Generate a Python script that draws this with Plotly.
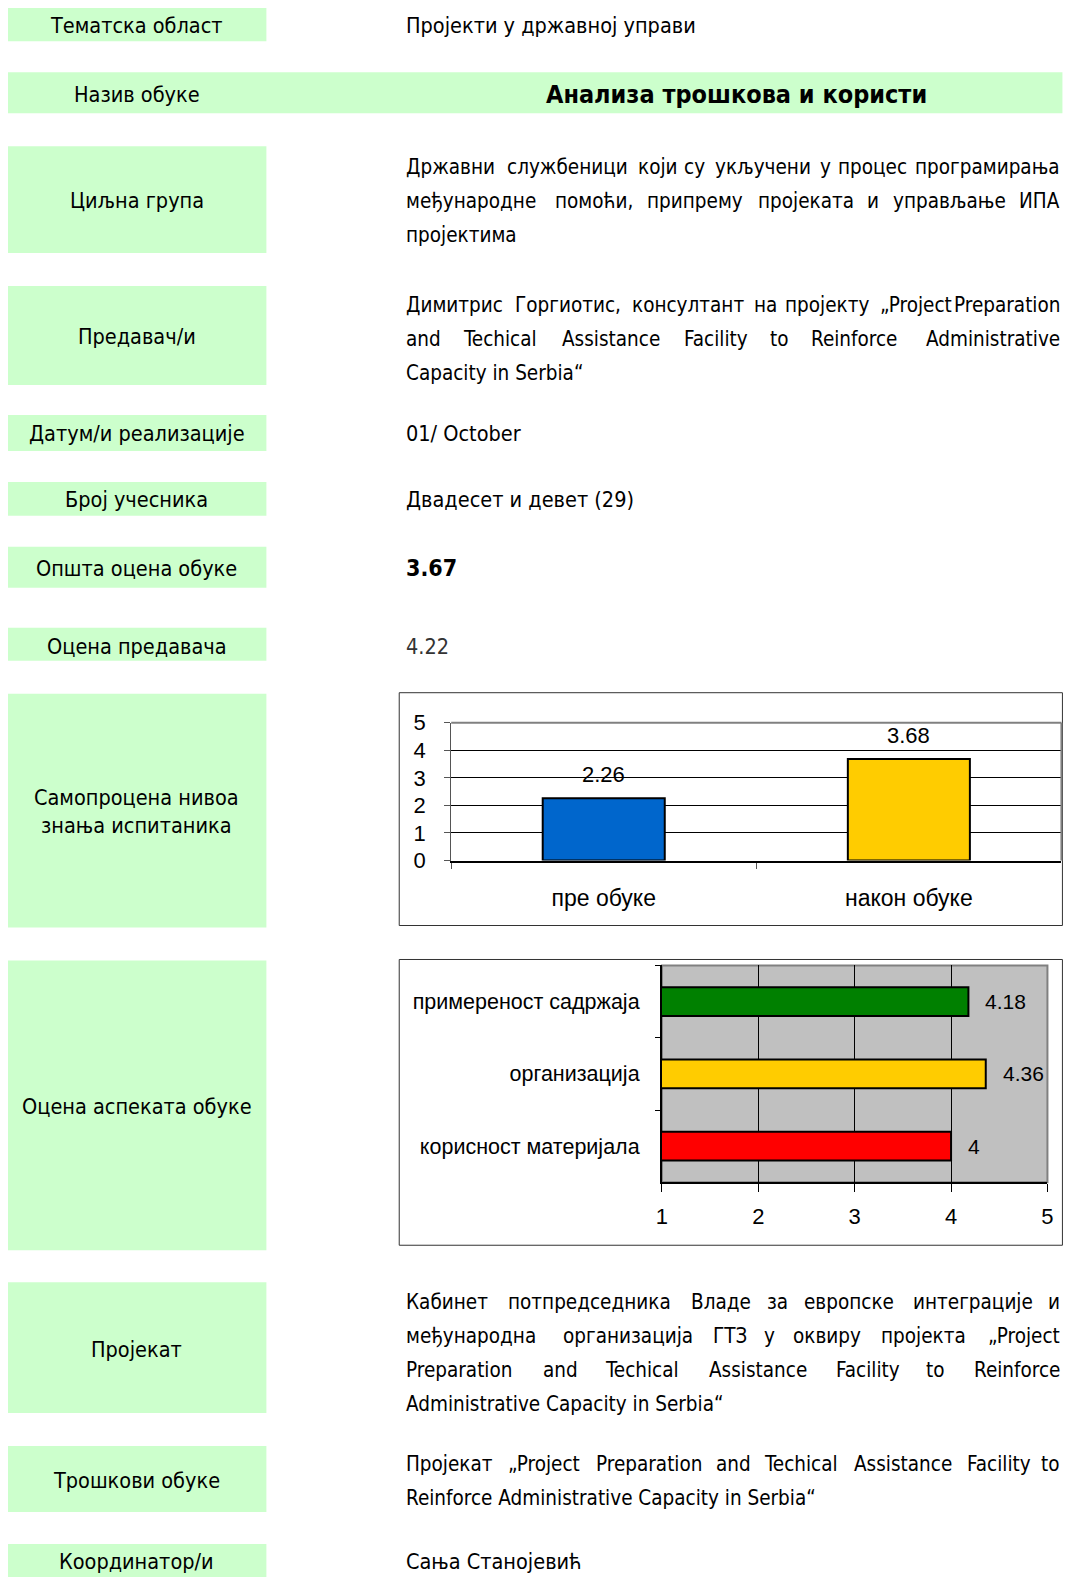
import plotly.graph_objects as go

W_PX, H_PX = 1071, 1577
# the captured page is slightly scaled / offset; positions below are reference-pixel
# coordinates mapped into figure coordinates
SX, BX = 0.99, 12.3
SY, BY = 0.985, 19.7
XMAX = 1062  # right-most visible reference pixel

# ---------------- data ----------------
row_labels = ["Тематска област", "Назив обуке", "Циљна група", "Предавач/и",
              "Датум/и реализације", "Број учесника", "Општа оцена обуке",
              "Оцена предавача", "Самопроцена нивоа<br>знања испитаника",
              "Оцена аспеката обуке", "Пројекат", "Трошкови обуке", "Координатор/и"]

topic = "Пројекти у државној управи"
title = "Анализа трошкова и користи"
target_group = ["Државни службеници који су укључени у процес програмирања",
                "међународне помоћи, припрему пројеката и управљање ИПА",
                "пројектима"]
lecturers = ["Димитрис Горгиотис, консултант на пројекту „Project Preparation",
             "and Techical Assistance Facility to Reinforce Administrative",
             "Capacity in Serbia“"]
date_text = "01/ October"
participants = "Двадесет и девет (29)"
overall_score = "3.67"
lecturer_score = "4.22"
project_text = ["Кабинет потпредседника Владе за европске интеграције и",
                "међународна организација ГТЗ у оквиру пројекта „Project",
                "Preparation and Techical Assistance Facility to Reinforce",
                "Administrative Capacity in Serbia“"]
costs_text = ["Пројекат „Project Preparation and Techical Assistance Facility to",
              "Reinforce Administrative Capacity in Serbia“"]
coordinator = "Сања Станојевић"

knowledge_cats = ["пре обуке", "након обуке"]
knowledge_vals = [2.26, 3.68]
knowledge_colors = ["#0066CC", "#FFCC00"]

aspect_cats = ["примереност садржаја", "организација", "корисност материјала"]
aspect_vals = [4.18, 4.36, 4.00]
aspect_colors = ["#008000", "#FFCC00", "#FF0000"]

# ---------------- helpers ----------------
NARROW = "DejaVu Sans Condensed, Liberation Sans Narrow, sans-serif"
ARIAL = "Liberation Sans, Arial, sans-serif"
GREEN = "#CCFFCC"

def fxp(x):  # reference px -> figure px
    return (min(x, XMAX) - BX) / SX

def fyp(y):
    return (y - BY) / SY

def px(x):
    return fxp(x) / W_PX

def py(y):
    return 1 - fyp(y) / H_PX

# approximate DejaVu Sans advance widths (em); condensed ~0.9 of these
WID = {' ': .318, ',': .318, '.': .318, '„': .518, '“': .518, '/': .337, '(': .39, ')': .39,
       'a': .613, 'b': .635, 'c': .550, 'd': .635, 'e': .615, 'f': .352, 'g': .635,
       'h': .634, 'i': .278, 'j': .278, 'k': .579, 'l': .278, 'm': .974, 'n': .634,
       'o': .612, 'p': .635, 'q': .635, 'r': .411, 's': .521, 't': .392, 'u': .634,
       'v': .592, 'w': .818, 'x': .592, 'y': .592, 'z': .525,
       'A': .684, 'C': .698, 'F': .575, 'P': .603, 'R': .695, 'S': .635, 'T': .611,
       'а': .613, 'б': .620, 'в': .590, 'г': .520, 'д': .690, 'е': .615, 'ж': .900,
       'з': .550, 'и': .650, 'к': .600, 'л': .640, 'м': .760, 'н': .650, 'о': .612,
       'п': .650, 'р': .635, 'с': .550, 'т': .580, 'у': .592, 'ф': .920, 'х': .592,
       'ц': .660, 'ч': .610, 'ш': .940, 'ј': .278, 'љ': .960, 'њ': .970, 'ћ': .634,
       'ђ': .634, 'џ': .650,
       'Д': .750, 'В': .686, 'К': .660, 'Г': .557, 'Т': .611, 'И': .748, 'П': .748,
       'А': .684, 'Ц': .760, 'Ш': 1.0, 'З': .620, 'Б': .686, 'О': .787, 'Н': .752,
       'С': .698, 'Р': .603, 'М': .863, 'Ј': .295}

FS = 21.5
FP = 20.5  # paragraph text size

def tw(s, size):
    return sum(WID.get(c, .62) for c in s) * 0.97 * size

annotations = []

def txt_f(xf, y, s, size=FS, anchor="left", bold=False, color="#000000", font=NARROW):
    annotations.append(dict(
        x=xf / W_PX, y=py(y), xref="paper", yref="paper",
        text=(f"<b>{s}</b>" if bold else s),
        showarrow=False, xanchor=anchor, yanchor="middle",
        font=dict(family=font, size=size, color=color)))

def txt(x, y, s, **kw):
    txt_f(fxp(x), y, s, **kw)

X0, X1 = 403, 1068

def paragraph(lines, y0, dy=33.8):
    a, b = fxp(X0), fxp(X1)
    for i, line in enumerate(lines):
        y = y0 + i * dy
        if i == len(lines) - 1:
            txt_f(a, y, line, size=FP)
            continue
        words = line.split(" ")
        widths = [tw(w, FP) for w in words]
        gap = max((b - a - sum(widths)) / (len(words) - 1), 5.0)
        pos = a
        for j, (w, wd) in enumerate(zip(words, widths)):
            if j == 0:
                txt_f(a, y, w, size=FP, anchor="left")
            elif j == len(words) - 1:
                txt_f(b, y, w, size=FP, anchor="right")
            else:
                txt_f(pos + wd / 2, y, w, size=FP, anchor="center")
            pos += wd + gap

# ---------------- green label boxes ----------------
boxes = [(7, 41), (72, 113), (146, 253), (286, 385), (415, 451), (482, 516),
         (547, 588), (628, 661), (694, 928), (961, 1251), (1283, 1414),
         (1447, 1513), (1545, 1600)]
label_y = [25, 94, 200, 336, 434, 500, 569, 647, 812, 1107, 1350, 1481, 1563]

shapes = []
for i, (y0, y1) in enumerate(boxes):
    x1 = 1069 if i == 1 else 265
    shapes.append(dict(type="rect", xref="paper", yref="paper", x0=px(5), x1=px(x1),
                       y0=py(y1), y1=py(y0), fillcolor=GREEN, line=dict(width=0),
                       layer="below"))
for lab, y in zip(row_labels, label_y):
    annotations.append(dict(x=px(135), y=py(y), xref="paper", yref="paper", text=lab,
                            showarrow=False, xanchor="center", yanchor="middle",
                            align="center",
                            font=dict(family=NARROW, size=FS, color="#000000")))

# ---------------- right column texts ----------------
txt(X0, 25, topic)
txt(736, 94, title, size=25, anchor="center", bold=True)
paragraph(target_group, 167)
paragraph(lecturers, 305)
txt(X0, 434, date_text)
txt(X0, 500, participants)
txt(X0, 568, overall_score, size=23, bold=True)
txt(X0, 647, lecturer_score, color="#333333")
paragraph(project_text, 1303)
paragraph(costs_text, 1465)
txt(X0, 1563, coordinator)

# chart frames
shapes.append(dict(type="rect", xref="paper", yref="paper", x0=px(398), x1=px(1067),
                   y0=py(926), y1=py(693), line=dict(color="#333333", width=1)))
shapes.append(dict(type="rect", xref="paper", yref="paper", x0=px(398), x1=px(1069),
                   y0=py(1246), y1=py(960), line=dict(color="#333333", width=1)))

fig = go.Figure()

# ---------------- chart 1: self-assessed knowledge ----------------
fig.add_trace(go.Bar(x=knowledge_cats, y=knowledge_vals, marker=dict(
    color=knowledge_colors, line=dict(color="#000000", width=2)), width=0.4,
    xaxis="x", yaxis="y", showlegend=False, hoverinfo="x+y"))
for c, v in zip(knowledge_cats, knowledge_vals):
    annotations.append(dict(x=c, y=v, xref="x", yref="y", text=f"{v:.2f}", showarrow=False,
                            yshift=24, yanchor="middle",
                            font=dict(family=ARIAL, size=22, color="#000000")))

# ---------------- chart 2: aspects ----------------
fig.add_trace(go.Bar(y=aspect_cats, x=aspect_vals, orientation="h", marker=dict(
    color=aspect_colors, line=dict(color="#000000", width=2)), width=0.4,
    xaxis="x2", yaxis="y2", showlegend=False, hoverinfo="x+y"))
for c, v in zip(aspect_cats, aspect_vals):
    annotations.append(dict(x=v, y=c, xref="x2", yref="y2", text=f"{v:g}", showarrow=False,
                            xanchor="left", xshift=15, yanchor="middle",
                            font=dict(family=ARIAL, size=21, color="#000000")))

fig.update_layout(
    width=W_PX, height=H_PX, margin=dict(l=0, r=0, t=0, b=0),
    paper_bgcolor="white", plot_bgcolor="white",
    xaxis=dict(domain=[px(450), px(1061)], anchor="y", showgrid=False,
               ticks="outside", tickson="boundaries", ticklen=6, tickcolor="#555555",
               showline=True, linecolor="#000000", linewidth=2, mirror=False,
               tickfont=dict(family=ARIAL, size=23, color="#000000"),
               ticklabelstandoff=16, fixedrange=True),
    yaxis=dict(domain=[py(861), py(723)], anchor="x", range=[0, 5], dtick=1,
               showgrid=True, gridcolor="#000000", gridwidth=1,
               ticks="outside", ticklen=6, tickcolor="#555555",
               showline=True, linecolor="#555555", linewidth=1,
               tickfont=dict(family=ARIAL, size=22, color="#000000"),
               ticklabelstandoff=14, zeroline=False, fixedrange=True),
    xaxis2=dict(domain=[px(661), px(1047)], anchor="y2", range=[1, 5], dtick=1,
                showgrid=True, gridcolor="#000000", gridwidth=1,
                ticks="outside", ticklen=8, tickcolor="#000000",
                showline=True, linecolor="#000000", linewidth=2,
                tickfont=dict(family=ARIAL, size=22, color="#000000"),
                ticklabelstandoff=5, zeroline=False, fixedrange=True),
    yaxis2=dict(domain=[py(1183), py(966)], anchor="x2", autorange="reversed",
                ticks="outside", tickson="boundaries", ticklen=5, tickcolor="#000000",
                showline=True, linecolor="#000000", linewidth=2, showgrid=False,
                tickfont=dict(family=ARIAL, size=21.5, color="#000000"),
                ticklabelstandoff=16, fixedrange=True),
    shapes=shapes, annotations=annotations,
)

fig.add_shape(type="rect", xref="x2 domain", yref="y2 domain", x0=0, x1=1, y0=0, y1=1,
              fillcolor="#C0C0C0", line=dict(color="#808080", width=2), layer="below")
fig.add_shape(type="line", xref="x domain", yref="y domain", x0=1, x1=1, y0=0, y1=1,
              line=dict(color="#808080", width=2))
fig.add_shape(type="line", xref="x domain", yref="y domain", x0=0, x1=1, y0=1, y1=1,
              line=dict(color="#808080", width=2))

fig.write_html("out.html")
